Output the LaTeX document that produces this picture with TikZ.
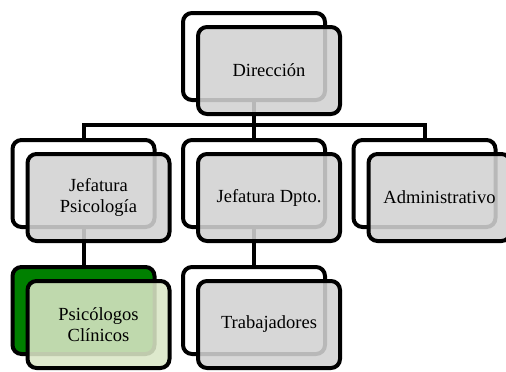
\documentclass[tikz,border=0pt]{standalone}
\usepackage{fontspec}
\setmainfont{Liberation Serif}
\usetikzlibrary{positioning}
\definecolor{boxgray}{RGB}{210,210,210}
\definecolor{darkgreen}{RGB}{0,128,0}
\definecolor{palegreen}{RGB}{218,230,198}

\begin{document}
\begin{tikzpicture}[x=1pt,y=1pt,
	back/.style={draw=black, line width=4pt, rounded corners=9pt, minimum width=142pt, minimum height=87pt},
	front/.style={back, fill=boxgray, fill opacity=0.88, text opacity=1, align=center, font=\rmfamily\fontsize{18.5}{21}\selectfont},
	link/.style={line width=4pt}]
	\useasboundingbox (0,0) rectangle (506,-372);
	\node[back] (dirB) at (254,-56.5) {};
	\node[back, below=36pt of dirB] (jdpB) {};
	\node[back, left=24.5pt of jdpB] (jpsB) {};
	\node[back, right=24.5pt of jdpB] (admB) {};
	\node[back, below=36pt of jdpB] (traB) {};
	\node[back, fill=darkgreen, below=36pt of jpsB] (psiB) {};
	\coordinate (bar) at ([yshift=-23pt]dirB.south);
	\draw[link] (jpsB.north) |- (bar) -| (admB.north);
	\draw[link] (dirB.south) -- (bar);
	\draw[link] (jdpB.north) -- (bar);
	\draw[link] (jpsB.south) -- (psiB.north);
	\draw[link] (jdpB.south) -- (traB.north);
	\node[front, xshift=15pt, yshift=-14pt] (dir) at (dirB) {Dirección};
	\node[front, xshift=15pt, yshift=-14pt] (jps) at (jpsB) {Jefatura\\Psicología};
	\node[front, xshift=15pt, yshift=-14pt] (jdp) at (jdpB) {Jefatura Dpto.};
	\node[front, xshift=15pt, yshift=-14pt] (adm) at (admB) {Administrativo};
	\node[front, fill=palegreen, xshift=15pt, yshift=-14pt] (psi) at (psiB) {Psicólogos\\Clínicos};
	\node[front, xshift=15pt, yshift=-14pt] (tra) at (traB) {Trabajadores};
\end{tikzpicture}
\end{document}
